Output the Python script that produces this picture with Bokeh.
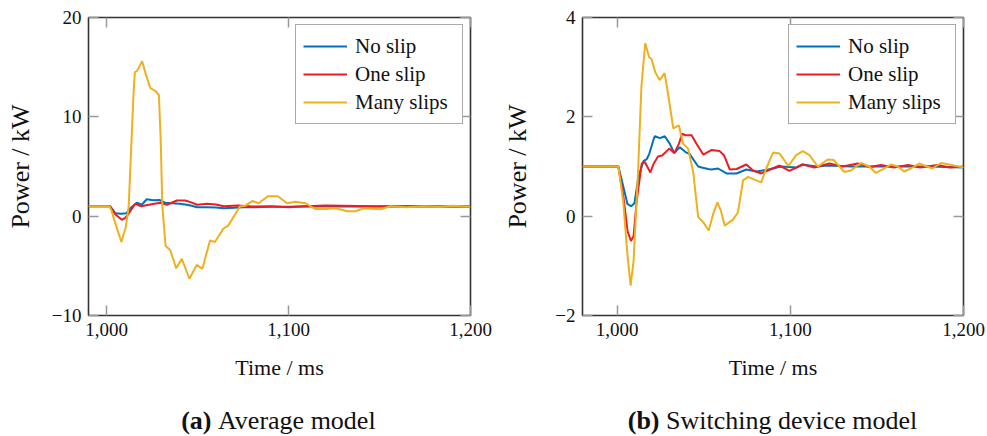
from bokeh.plotting import figure
from bokeh.layouts import row, column
from bokeh.models import FixedTicker, NumeralTickFormatter, LinearAxis, Label, Range1d
from bokeh.embed import file_html
from bokeh.resources import INLINE

# ---------------- data ----------------
series_names = ["No slip", "One slip", "Many slips"]
series_colors = ["#0072BD", "#EC1C24", "#EDB120"]
x_ticks = [1000, 1100, 1200]
avg_y_ticks = [-10, 0, 10, 20]
sw_y_ticks = [-2, 0, 2, 4]
x_label = "Time / ms"
y_label = "Power / kW"
captions_bold = ["(a)", "(b)"]
captions_text = ["Average model", "Switching device model"]

# (a) Average model
avg_t_no = [990, 1001.9, 1004.7, 1008, 1010.9, 1012.9, 1016.6, 1019.3, 1022, 1025.7,
            1029, 1032.1, 1036, 1040, 1044, 1046.1, 1049.7, 1055, 1060, 1064.4,
            1070, 1075, 1082, 1090, 1100, 1110, 1120, 1135, 1150, 1165, 1180, 1200]
avg_no = [1.0, 1.0, 0.3, 0.24, 0.3, 0.8, 1.35, 1.15, 1.7, 1.6,
          1.63, 1.35, 1.3, 1.25, 1.15, 1.07, 0.9, 0.9, 0.88, 0.8,
          0.85, 0.9, 0.9, 0.95, 0.95, 1.0, 0.97, 1.0, 0.97, 1.0, 0.98, 0.97]

avg_t_one = [990, 1001.9, 1004.7, 1008.3, 1010, 1012, 1015.7, 1019, 1023.9, 1029.5,
             1033.2, 1038.6, 1043.2, 1046.1, 1049.7, 1055.2, 1060, 1064.4, 1072, 1080,
             1090, 1100, 1110, 1120, 1130, 1145, 1160, 1180, 1200]
avg_one = [1.0, 1.0, 0.2, -0.37, -0.2, 0.24, 1.25, 1.0, 1.17, 1.35,
           1.15, 1.58, 1.58, 1.41, 1.15, 1.24, 1.17, 1.0, 1.07, 0.97,
           1.0, 0.9, 1.0, 1.07, 1.05, 1.0, 1.0, 1.0, 0.98]

avg_t_many = [990, 1001.5, 1002.6, 1005.4, 1008.1, 1010.5, 1012.1, 1013.5, 1014.8, 1015.5,
              1016.6, 1019.5, 1021.3, 1024, 1026.8, 1028.7, 1029.7, 1030.6, 1032.4, 1034.9,
              1038.2, 1041.3, 1045.5, 1049.5, 1052.6, 1056.8, 1059.5, 1064.1, 1066.8, 1070.8,
              1073.2, 1076.3, 1080, 1083.6, 1088.6, 1094.1, 1099.2, 1103.7, 1109.3, 1114.8,
              1120.3, 1125.8, 1132.2, 1136.8, 1141.4, 1150.5, 1156, 1165, 1174, 1183.5,
              1190, 1200]
avg_many = [1.0, 1.0, 0.58, -1.1, -2.6, -1.1, 1.0, 7.0, 12.5, 14.5,
            14.6, 15.6, 14.4, 12.9, 12.6, 12.2, 7.6, 1.0, -3.0, -3.4,
            -5.25, -4.3, -6.3, -4.9, -5.3, -2.45, -2.6, -1.27, -0.95, 0.24,
            0.98, 1.06, 1.52, 1.3, 2.0, 2.0, 1.3, 1.45, 1.3, 0.71,
            0.71, 0.8, 0.5, 0.5, 0.8, 0.7, 1.0, 0.9, 1.0, 0.95,
            1.05, 0.95]

# (b) Switching device model
sw_t_no = [980, 1000.7, 1003.6, 1006, 1008.1, 1010, 1012.3, 1015.2, 1017.1, 1018.5,
           1020.9, 1021.8, 1024.7, 1027.5, 1030.4, 1033, 1036.2, 1039.5, 1041.9, 1046.8,
           1048.8, 1052.5, 1054.4, 1058.3, 1063.1, 1068.9, 1074.6, 1080.4, 1086.2, 1094.8,
           1103.5, 1107, 1115, 1122, 1135, 1150, 1165, 1180, 1200]
sw_no = [1.0, 1.0, 0.59, 0.24, 0.2, 0.26, 0.79, 1.11, 1.15, 1.25,
         1.53, 1.61, 1.57, 1.61, 1.46, 1.27, 1.39, 1.29, 1.25, 1.0,
         0.98, 0.95, 0.94, 0.96, 0.86, 0.86, 0.94, 0.9, 0.93, 1.0,
         0.98, 1.04, 1.0, 1.02, 1.0, 1.0, 1.0, 1.0, 0.98]

sw_t_one = [980, 1000.7, 1003.6, 1006, 1008, 1009.5, 1011.3, 1014.2, 1016, 1019.2,
            1021, 1023.6, 1026, 1030.1, 1033, 1035.7, 1037.5, 1039.5, 1043, 1045.8,
            1049.7, 1054.4, 1059.2, 1061.8, 1065, 1069, 1074.6, 1078.5, 1083.2, 1089,
            1093.8, 1099.5, 1107.2, 1113.9, 1122.5, 1130.2, 1138.9, 1146, 1152.3, 1160,
            1168, 1175, 1185, 1192, 1200]
sw_one = [1.0, 1.0, 0.4, -0.3, -0.5, -0.4, 0.32, 1.06, 1.09, 0.88,
          1.05, 1.2, 1.22, 1.36, 1.27, 1.46, 1.66, 1.63, 1.63, 1.46,
          1.24, 1.33, 1.31, 1.22, 0.94, 0.95, 1.04, 0.92, 0.86, 0.95,
          1.02, 0.91, 1.04, 0.98, 1.06, 1.0, 1.06, 0.99, 1.03, 0.98,
          1.03, 0.98, 1.03, 0.98, 1.0]

sw_t_many = [980, 1000.7, 1003.5, 1006, 1007.8, 1009.5, 1012.2, 1014, 1016.2, 1018.5,
             1019.9, 1022, 1024.5, 1027.4, 1029.5, 1032.4, 1035.6, 1038.1, 1041, 1043.9,
             1046.8, 1049.7, 1052.9, 1055.5, 1057.9, 1060, 1062.1, 1066.9, 1069.8, 1072.7,
             1075.6, 1080.3, 1083.2, 1086.1, 1090, 1093.8, 1098.9, 1103.4, 1107.2, 1111,
             1115.9, 1121.6, 1125, 1131.2, 1135, 1140.8, 1145.6, 1149.4, 1153.3, 1158.1,
             1162, 1165.7, 1169.6, 1174.4, 1179, 1182, 1186.9, 1191.7, 1200]
sw_many = [1.0, 1.0, 0.3, -0.8, -1.4, -0.9, 1.0, 2.6, 3.48, 3.2,
           3.16, 2.9, 2.74, 2.88, 2.44, 1.77, 1.83, 1.46, 1.36, 0.89,
           -0.02, -0.12, -0.29, 0.05, 0.28, 0.1, -0.19, -0.07, 0.08, 0.72,
           0.79, 0.72, 0.68, 0.96, 1.28, 1.26, 1.01, 1.23, 1.31, 1.23,
           1.0, 1.14, 1.13, 0.89, 0.92, 1.07, 1.0, 0.87, 0.94, 1.04,
           1.0, 0.9, 0.96, 1.06, 1.0, 0.96, 1.07, 1.04, 0.98]

FONT = "Liberation Serif"
FRAME_H = 298
PLOT_H = 390
CAP_H = 46


def make_panel(xr, yr, y_ticks, series, frame_w, b_left, b_right, ylab_standoff):
    p = figure(frame_width=frame_w, frame_height=FRAME_H,
               min_border_left=b_left, min_border_right=b_right,
               min_border_top=17, min_border_bottom=PLOT_H - 17 - FRAME_H,
               x_range=Range1d(*xr), y_range=Range1d(*yr),
               output_backend="svg", toolbar_location=None)
    p.xgrid.visible = False
    p.ygrid.visible = False
    p.outline_line_color = "#333333"
    p.outline_line_width = 1.6
    p.outline_line_alpha = 1.0
    p.background_fill_color = "white"
    p.border_fill_color = "white"

    for (t, v), name, col in zip(series, series_names, series_colors):
        p.line(t, v, line_color=col, line_width=2, legend_label=name)

    for ax in (p.xaxis[0], p.yaxis[0]):
        ax.axis_line_color = None
        ax.major_tick_in = 10
        ax.major_tick_out = 0
        ax.major_tick_line_color = "#999999"
        ax.major_tick_line_width = 1.5
        ax.minor_tick_line_color = None
        ax.major_label_text_font = FONT
        ax.major_label_text_font_size = "19px"
        ax.major_label_text_color = "#111111"
        ax.axis_label_text_font = FONT
        ax.axis_label_text_font_style = "normal"
        ax.axis_label_text_color = "#111111"
    p.xaxis[0].ticker = FixedTicker(ticks=x_ticks)
    p.xaxis[0].formatter = NumeralTickFormatter(format="0,0")
    p.xaxis[0].major_label_standoff = 7
    p.xaxis[0].axis_label = x_label
    p.xaxis[0].axis_label_text_font_size = "22px"
    p.xaxis[0].axis_label_standoff = 16
    p.yaxis[0].ticker = FixedTicker(ticks=y_ticks)
    p.yaxis[0].major_label_standoff = 7
    p.yaxis[0].axis_label = y_label
    p.yaxis[0].axis_label_text_font_size = "26px"
    p.yaxis[0].axis_label_standoff = ylab_standoff

    # mirrored tick marks (top / right), labels not painted
    top = LinearAxis(ticker=FixedTicker(ticks=x_ticks))
    right = LinearAxis(ticker=FixedTicker(ticks=y_ticks))
    for ax in (top, right):
        ax.axis_line_color = None
        ax.major_tick_in = 10
        ax.major_tick_out = 0
        ax.major_tick_line_color = "#999999"
        ax.major_tick_line_width = 1.5
        ax.minor_tick_line_color = None
        ax.major_label_text_font_size = "1px"
        ax.major_label_text_color = None
        ax.major_label_standoff = 0
    p.add_layout(top, "above")
    p.add_layout(right, "right")

    lg = p.legend[0]
    lg.location = "top_right"
    lg.margin = 7
    lg.padding = 7
    lg.spacing = 0
    lg.label_height = 28
    lg.glyph_height = 28
    lg.glyph_width = 44
    lg.label_width = 100
    lg.label_standoff = 8
    lg.label_text_font = FONT
    lg.label_text_font_size = "21px"
    lg.label_text_color = "#111111"
    lg.border_line_color = "#555555"
    lg.border_line_width = 1.5
    lg.background_fill_alpha = 1.0
    return p


def make_caption(width, split, bold_txt, txt):
    c = figure(width=width, height=CAP_H, x_range=Range1d(0, width),
               y_range=Range1d(0, CAP_H), min_border=0,
               output_backend="svg", toolbar_location=None,
               x_axis_type=None, y_axis_type=None)
    c.xgrid.visible = False
    c.ygrid.visible = False
    c.outline_line_color = None
    c.add_layout(Label(x=split, y=CAP_H - 30, text=bold_txt,
                       text_align="right", text_baseline="middle",
                       text_font=FONT, text_font_size="26px", text_font_style="bold",
                       text_color="#111111"))
    c.add_layout(Label(x=split + 6.5, y=CAP_H - 30, text=txt,
                       text_align="left", text_baseline="middle",
                       text_font=FONT, text_font_size="26px", text_font_style="normal",
                       text_color="#111111"))
    return c


p1 = make_panel((990, 1200), (-10, 20), avg_y_ticks,
                [(avg_t_no, avg_no), (avg_t_one, avg_one), (avg_t_many, avg_many)],
                382, 88, 30, 14)
p2 = make_panel((980, 1200), (-2, 4), sw_y_ticks,
                [(sw_t_no, sw_no), (sw_t_one, sw_one), (sw_t_many, sw_many)],
                381, 81, 25, 20)
c1 = make_caption(500, 88 + 123, captions_bold[0], captions_text[0])
c2 = make_caption(487, 81 + 78, captions_bold[1], captions_text[1])

layout = column(row(p1, p2), row(c1, c2))
open("out.html", "w").write(file_html(layout, INLINE))
